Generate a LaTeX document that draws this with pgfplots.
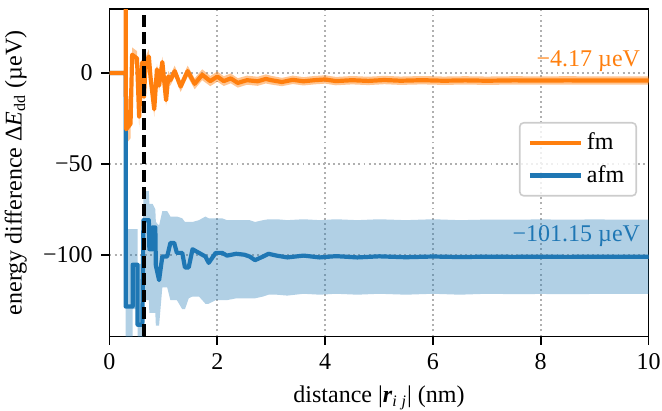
\documentclass[12pt,border=0pt]{standalone}
\usepackage{fontspec}
\setmainfont{Liberation Serif}
\usepackage{pgfplots}
\pgfplotsset{compat=1.18}
\usepackage{pgfplotstable}
\usepgfplotslibrary{fillbetween}
\definecolor{tabblue}{HTML}{1F77B4}
\definecolor{taborange}{HTML}{FF7F0E}

\pgfplotstableread{
x y lo hi
0 0 0 0
0.300 0 0 0
0.300 60 55 65
0.303 60 55 65
0.303 -13 -18 -8
0.31 -13 -18 -8
0.31 -31 -39 -23
0.39 -28 -36 -20
0.42 10 6 14
0.51 8 4 12
0.55 -24 -30 -18
0.58 -5 -9 -1
0.61 6 2 10
0.64 -13 -17 -9
0.67 5 1 9
0.73 9 5 13
0.76 -2 -5 1
0.83 -20 -24 -16
0.88 2 -1 5
0.92 -7 -10 -4
0.98 6 3 9
1.05 -15 -18 -12
1.09 -2 -5 1
1.13 -4 -7 -1
1.21 1 -2 4
1.32 -7.5 -10.5 -4.5
1.45 1 -2 4
1.58 -6 -9 -3
1.72 -1 -4 2
1.87 -4.5 -7.3 -1.7
2.00 -2 -4.8 0.8
2.12 -4.5 -7.2 -1.8
2.25 -3 -5.7 -0.3
2.38 -5.5 -8.1 -2.9
2.55 -4 -6.5 -1.5
2.75 -4.6 -7.1 -2.1
2.90 -3.3 -5.8 -0.8
3.00 -4 -6.4 -1.6
3.20 -5 -7.3 -2.7
3.40 -3.8 -6.1 -1.5
3.60 -4.6 -6.9 -2.3
3.80 -4 -6.3 -1.7
4.00 -3.6 -5.9 -1.3
4.20 -4.5 -6.8 -2.2
4.50 -4 -6.3 -1.7
4.80 -4.4 -6.7 -2.1
5.10 -3.9 -6.2 -1.6
5.40 -4.3 -6.6 -2.0
5.80 -4.0 -6.3 -1.7
6.20 -4.3 -6.6 -2.0
6.60 -4.1 -6.4 -1.8
7.00 -4.3 -6.6 -2.0
7.50 -4.1 -6.4 -1.8
8.00 -4.2 -6.5 -1.9
8.50 -4.1 -6.4 -1.8
9.00 -4.2 -6.5 -1.9
9.50 -4.15 -6.45 -1.85
10.00 -4.17 -6.47 -1.87
}\fmdata

\pgfplotstableread{
x y lo hi
0 0 0 0
0.300 0 0 0
0.300 -128.5 -170 -86
0.43 -128.5 -170 -86
0.43 -105.5 -130 -86
0.52 -105.5 -130 -86
0.52 -138.5 -175 -105
0.61 -138.5 -175 -105
0.63 -81 -125 -65
0.73 -81 -125 -65
0.74 -97 -132 -72
0.80 -97 -132 -72
0.80 -85 -132 -72
0.85 -85 -132 -75
0.86 -106 -139 -82
0.92 -114 -139 -84
0.98 -101 -118 -76
1.07 -101 -118 -76
1.13 -93.5 -125 -79
1.20 -93.5 -125 -79
1.25 -99 -125 -79
1.35 -99 -130 -80
1.40 -107 -130 -82
1.47 -107 -124 -82
1.54 -97 -123 -82
1.66 -99 -123 -81
1.78 -101 -127 -79
1.84 -104.5 -127 -80
1.97 -99 -125 -80
2.09 -99 -125 -80
2.18 -100.5 -125 -81
2.35 -99.5 -124 -81
2.50 -100 -124 -81
2.60 -101 -124 -81
2.70 -103 -124 -82
2.85 -101 -123 -81
2.95 -99.5 -122 -80.5
3.10 -100.5 -122 -80.5
3.30 -101.5 -122.5 -81
3.60 -100.5 -121.5 -80.5
3.90 -101.5 -122 -81
4.20 -100.8 -121.5 -80.5
4.60 -101.5 -122 -81
5.00 -100.9 -121.5 -80.5
5.50 -101.4 -122 -81
6.00 -101 -121.5 -80.5
6.50 -101.3 -122 -81
7.00 -101.1 -121.5 -80.7
7.50 -101.2 -121.7 -80.7
8.00 -101.1 -121.6 -80.6
8.50 -101.2 -121.7 -80.7
9.00 -101.1 -121.6 -80.6
9.50 -101.15 -121.6 -80.7
10.00 -101.15 -121.6 -80.7
}\afmdata

\begin{document}
\begin{tikzpicture}
\begin{axis}[
  scale only axis, width=269.5pt, height=163.6pt,
  xmin=0, xmax=10, ymin=-145, ymax=35,
  xtick={0,2,4,6,8,10}, xticklabels={0,2,4,6,8,10},
  ytick={-100,-50,0}, yticklabels={−100,−50,0},
  tick align=outside, xtick pos=bottom, ytick pos=left,
  major tick length=4.2pt,
  every tick/.style={black, line width=0.96pt},
  axis line style={line width=0.96pt},
  grid=major,
  major grid style={black!31, line width=0.96pt, dash pattern=on 0.96pt off 1.58pt},
  xlabel={distance |\textbf{\textit{r}}\textsubscript{\textit{i}\hspace{0.3em}\textit{j}}| (nm)},
  ylabel={energy difference Δ\textit{E}\textsubscript{dd} (µeV)},
  legend style={at={(axis description cs:0.9787,0.6556)}, anchor=north east,
    draw=black!20, line width=0.8pt, rounded corners=2pt, fill=white,
    fill opacity=0.8, text opacity=1, draw opacity=1,
    inner xsep=4pt, inner ysep=3pt, row sep=2pt},
  legend cell align=left,
  legend image code/.code={\draw[#1] (0pt,0pt) -- (25.5pt,0pt);},
  reverse legend,
]
% bands
\addplot[draw=none, name path=fmhi, forget plot] table[x=x,y=hi] {\fmdata};
\addplot[draw=none, name path=fmlo, forget plot] table[x=x,y=lo] {\fmdata};
\addplot[fill=taborange, fill opacity=0.45, draw=none, forget plot] fill between[of=fmhi and fmlo];
\addplot[draw=none, name path=afhi, forget plot] table[x=x,y=hi] {\afmdata};
\addplot[draw=none, name path=aflo, forget plot] table[x=x,y=lo] {\afmdata};
\addplot[fill=tabblue, fill opacity=0.35, draw=none, forget plot] fill between[of=afhi and aflo];
% lines
\addplot[tabblue, line width=2.1pt, line join=round] table[x=x,y=y] {\afmdata};
\addlegendentry{afm}
\addplot[taborange, line width=2.1pt, line join=round] table[x=x,y=y] {\fmdata};
\addlegendentry{fm}
% dashed marker
\addplot[black, line width=1.8pt, dash pattern=on 6pt off 2.6pt, forget plot] coordinates {(0.64,-145) (0.64,35)};
\node[anchor=base east, inner sep=0pt, text=taborange] at (axis cs:9.85,3.3) {−4.17 µeV};
\node[anchor=base east, inner sep=0pt, text=tabblue] at (axis cs:9.85,-92.9) {−101.15 µeV};
\end{axis}
\pgfresetboundingbox
\path[use as bounding box] ([xshift=-54.75pt,yshift=-37.25pt]current axis.south west) rectangle ([xshift=6.75pt,yshift=4.65pt]current axis.north east);
\end{tikzpicture}
\end{document}
